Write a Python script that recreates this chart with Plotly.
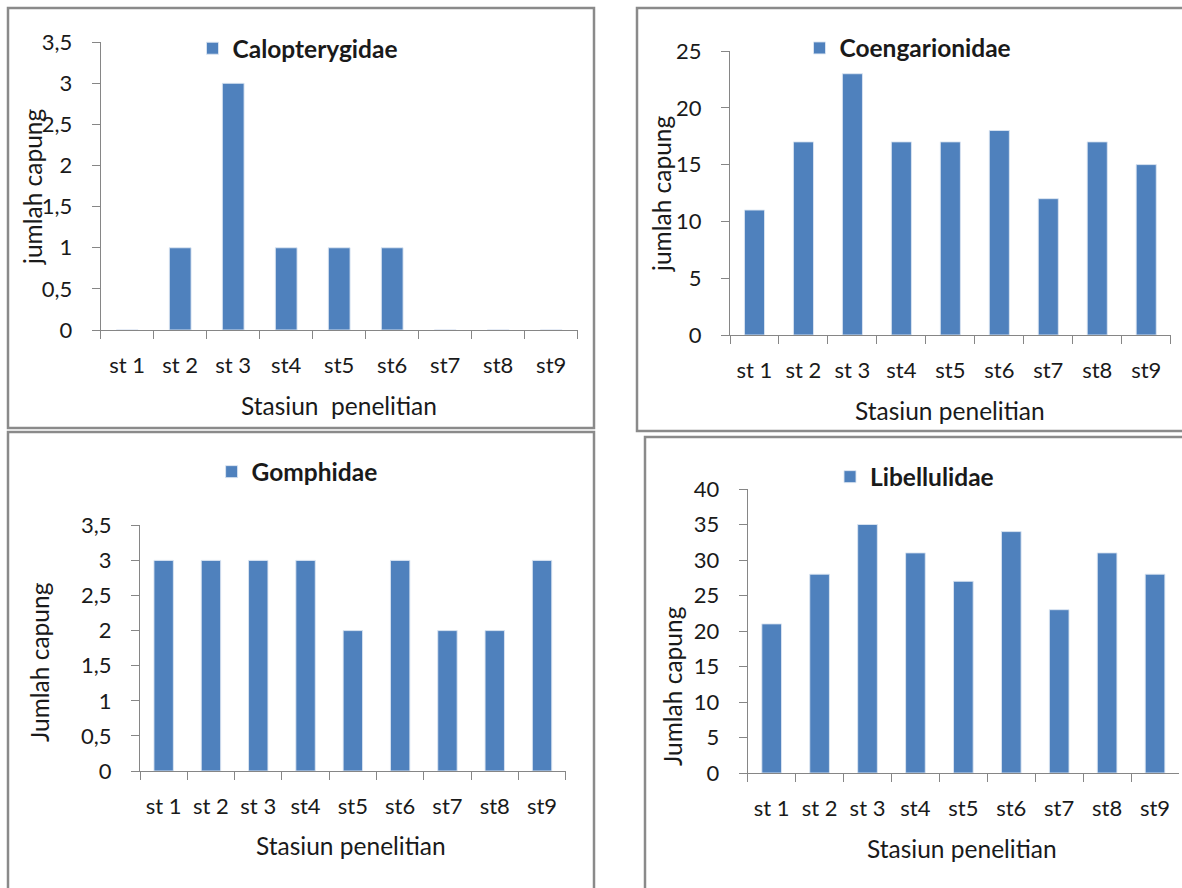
import plotly.graph_objects as go

W, H = 1182, 888

stations = ['st 1', 'st 2', 'st 3', 'st4', 'st5', 'st6', 'st7', 'st8', 'st9']
calopterygidae = [0, 1, 3, 1, 1, 1, 0, 0, 0]
coengarionidae = [11, 17, 23, 17, 17, 18, 12, 17, 15]
gomphidae = [3, 3, 3, 3, 2, 3, 2, 2, 3]
libellulidae = [21, 28, 35, 31, 27, 34, 23, 31, 28]

series_names = ['Calopterygidae', 'Coengarionidae', 'Gomphidae', 'Libellulidae']
series_values = [calopterygidae, coengarionidae, gomphidae, libellulidae]
y_max = [3.5, 25, 3.5, 40]
y_step = [0.5, 5, 0.5, 5]
y_titles = ['jumlah capung', 'jumlah capung', 'Jumlah capung', 'Jumlah capung']
x_titles = ['Stasiun  penelitian', 'Stasiun penelitian', 'Stasiun penelitian', 'Stasiun penelitian']

FONT = 'Lato, Carlito, Calibri, sans-serif'
BAR = '#4F81BD'
AXIS = '#868686'
TXT = '#1a1a1a'

def px(x):
    return x / W

def py(y):
    return 1 - y / H

# layout geometry (pixels)
x_dom = [(100.7, 577.7), (730, 1170.7), (140, 565.7), (747.7, 1179)]
y_dom = [(330, 42.2), (335, 51), (771, 525.3), (773, 489)]
legend_pos = [(192.5, 48.3), (799.5, 48), (211.6, 471.7), (830, 476.7)]
ytitle_pos = [(32, 187), (661, 194), (39, 662), (672, 686)]
xtitle_pos = [(339, 405), (950, 410), (351, 845), (962, 848)]
borders = [(8, 8, 594, 428), (637, 8, 1195, 431), (8, 432, 594, 920), (645, 437, 1195, 920)]

fig = go.Figure()
layout = dict(
    width=W, height=H,
    margin=dict(l=0, r=0, t=0, b=0, autoexpand=False),
    paper_bgcolor='white', plot_bgcolor='white',
    separators=', ',
    bargap=0.59,
    font=dict(family=FONT, color=TXT),
    shapes=[], annotations=[],
)

for i in range(4):
    n = '' if i == 0 else str(i + 1)
    fig.add_trace(go.Bar(
        x=stations, y=series_values[i],
        name='<b>' + series_names[i] + '</b>',
        marker=dict(color=BAR, line=dict(color='rgba(220,230,242,0.9)', width=1)),
        xaxis='x' + n, yaxis='y' + n,
        legend='legend' + n,
        showlegend=True,
        hoverinfo='x+y',
    ))
    layout['xaxis' + n] = dict(
        domain=[px(x_dom[i][0]), px(x_dom[i][1])],
        anchor='y' + n,
        type='category',
        automargin=False,
        showline=True, linecolor=AXIS, linewidth=1,
        ticks='outside', tickson='boundaries', ticklen=8, tickcolor=AXIS,
        showgrid=False, zeroline=False,
        tickfont=dict(family=FONT, size=22, color=TXT),
        ticklabelstandoff=16,
    )
    layout['yaxis' + n] = dict(
        domain=[py(y_dom[i][0]), py(y_dom[i][1])],
        anchor='x' + n,
        automargin=False,
        range=[0, y_max[i]], dtick=y_step[i], tick0=0,
        showline=True, linecolor=AXIS, linewidth=1,
        ticks='outside', ticklen=8, tickcolor=AXIS,
        showgrid=False, zeroline=False,
        tickfont=dict(family=FONT, size=22, color=TXT),
        ticklabelstandoff=15,
    )
    layout['legend' + n] = dict(
        x=px(legend_pos[i][0]), y=py(legend_pos[i][1]),
        xanchor='left', yanchor='middle',
        bgcolor='rgba(0,0,0,0)', borderwidth=0,
        font=dict(family=FONT, size=24.5, color=TXT),
    )
    layout['annotations'].append(dict(
        text=y_titles[i], x=px(ytitle_pos[i][0]), y=py(ytitle_pos[i][1]),
        xref='paper', yref='paper', showarrow=False, textangle=-90,
        xanchor='center', yanchor='middle',
        font=dict(family=FONT, size=24.5, color=TXT),
    ))
    layout['annotations'].append(dict(
        text=x_titles[i], x=px(xtitle_pos[i][0]), y=py(xtitle_pos[i][1]),
        xref='paper', yref='paper', showarrow=False,
        xanchor='center', yanchor='middle',
        font=dict(family=FONT, size=24.5, color=TXT),
    ))
    b = borders[i]
    layout['shapes'].append(dict(
        type='rect', xref='paper', yref='paper',
        x0=px(b[0]), y0=py(b[1]), x1=px(b[2]), y1=py(b[3]),
        line=dict(color='#8a8a8a', width=2.5), fillcolor='rgba(0,0,0,0)',
    ))

fig.update_layout(**layout)
fig.write_html('out.html', config={'displayModeBar': False},
               post_script="document.body.style.margin='0px';document.body.style.overflow='hidden';")
